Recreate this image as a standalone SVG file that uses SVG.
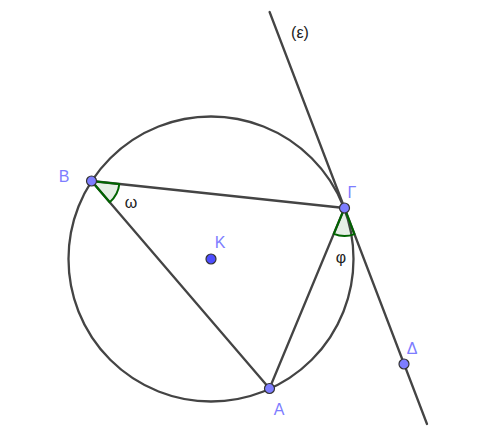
<svg xmlns="http://www.w3.org/2000/svg" width="480" height="436" viewBox="0 0 480 436">
<style>
.ln{stroke:#444;stroke-width:2.3;fill:none;stroke-linecap:round}
.ang{fill:rgba(0,100,0,0.1);stroke:#006400;stroke-width:2;stroke-linejoin:round}
.pt{fill:#7d7dff;stroke:#333;stroke-width:1.2}
.ptk{fill:#4d4dff;stroke:#333;stroke-width:1.2}
.lbl{font-family:"Liberation Sans",Arial,sans-serif;font-size:16px;fill:#7d7dff}
.albl{font-family:"Liberation Sans",Arial,sans-serif;font-size:16px;fill:#222}
</style>
<rect width="480" height="436" fill="#fff"/>
<g id="connectors">
<circle id="circle" class="ln" cx="211" cy="259" r="142.5"/>
<line class="ln" x1="91.5" y1="181" x2="344.5" y2="208"/>
<line class="ln" x1="91.5" y1="181" x2="269.5" y2="388.5"/>
<line class="ln" x1="344.5" y1="208" x2="269.5" y2="388.5"/>
<line id="tangent" class="ln" x1="269.6" y1="12" x2="427" y2="424"/>
</g>
<g id="angle-omega">
<path class="ang" d="M91.5 181 L119.35 183.97 A28 28 0 0 1 109.73 202.25 Z"/>
<text class="albl" x="131" y="208" text-anchor="middle">ω</text>
</g>
<g id="angle-phi">
<path class="ang" d="M344.5 208 L354.49 234.16 A28 28 0 0 1 333.76 233.85 Z"/>
<text class="albl" x="341" y="263" text-anchor="middle">φ</text>
</g>
<g id="node-B">
<circle class="pt" cx="91.5" cy="181" r="5"/>
<text class="lbl" x="64" y="182" text-anchor="middle">Β</text>
</g>
<g id="node-G">
<circle class="pt" cx="344.5" cy="208" r="5"/>
<text class="lbl" x="352" y="198" text-anchor="middle">Γ</text>
</g>
<g id="node-A">
<circle class="pt" cx="269.5" cy="388.5" r="5"/>
<text class="lbl" x="279" y="415" text-anchor="middle">Α</text>
</g>
<g id="node-D">
<circle class="pt" cx="404" cy="364" r="5"/>
<text class="lbl" x="412" y="354" text-anchor="middle">Δ</text>
</g>
<g id="node-K">
<circle class="ptk" cx="211" cy="259" r="5"/>
<text class="lbl" x="220" y="248" text-anchor="middle">Κ</text>
</g>
<g id="label-e">
<text class="albl" x="300" y="38" text-anchor="middle">(ε)</text>
</g>
</svg>
